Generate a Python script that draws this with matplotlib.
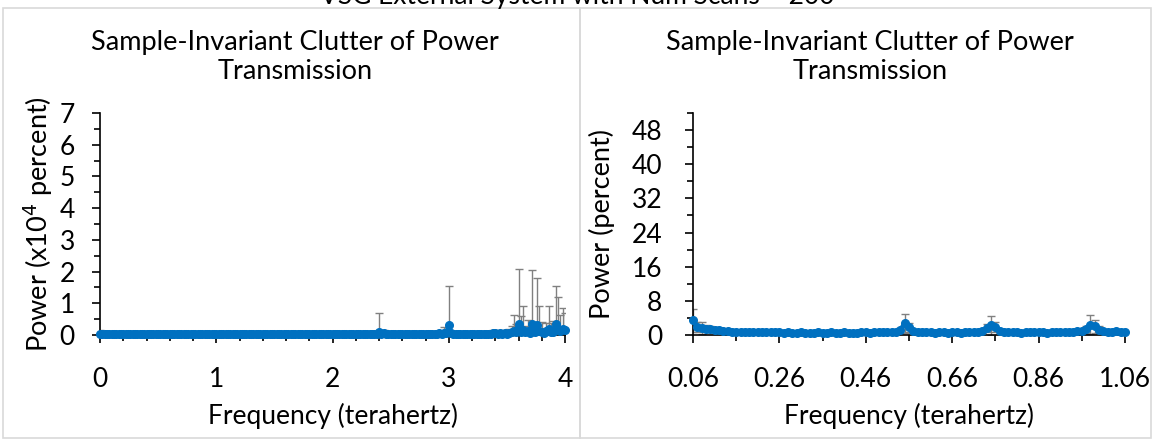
import matplotlib
matplotlib.use("Agg")
import matplotlib.pyplot as plt
import numpy as np
from matplotlib.patches import Rectangle
from matplotlib.ticker import MultipleLocator

plt.rcParams['font.family'] = ['Lato', 'DejaVu Sans']

suptitle = "VSG External System with Num Scans = 200"
panel_title = "Sample-Invariant Clutter of Power\nTransmission"
x_label = "Frequency (terahertz)"

# left panel: 0 - 4 THz, step 0.02, power in x10^4 percent
left_freq = np.round(np.arange(0, 4.0001, 0.02), 2)
left_power = ([0.02] * 110
              + [0.03, 0.02, 0.02, 0.03, 0.02, 0.02, 0.03, 0.02, 0.03, 0.04]
              + [0.08]
              + [0.04, 0.05, 0.03, 0.02, 0.02, 0.03, 0.02, 0.02, 0.03]
              + [0.02, 0.03, 0.02, 0.02, 0.02, 0.03, 0.02, 0.02, 0.04, 0.03,
                 0.02, 0.02, 0.03, 0.03, 0.02, 0.04, 0.05, 0.04, 0.06, 0.05]
              + [0.30]
              + [0.05, 0.04, 0.03, 0.03, 0.02, 0.03, 0.04, 0.03, 0.03, 0.02,
                 0.03, 0.02, 0.03, 0.04, 0.03, 0.02, 0.03, 0.04, 0.05]
              + [0.06, 0.04, 0.05, 0.03, 0.06, 0.04, 0.05, 0.08, 0.12, 0.10]
              + [0.35, 0.10, 0.15, 0.08, 0.12, 0.05, 0.35, 0.10, 0.30, 0.12]
              + [0.10, 0.05, 0.12, 0.20, 0.08, 0.10, 0.35, 0.15, 0.12, 0.20]
              + [0.15])
left_err = ([0.15] + [0.0] * 109
            + [0.03, 0.0, 0.0, 0.05, 0.0, 0.0, 0.03, 0.0, 0.05, 0.06]
            + [0.62]
            + [0.05, 0.10, 0.03, 0.0, 0.0, 0.04, 0.0, 0.0, 0.03]
            + [0.0, 0.03, 0.0, 0.0, 0.0, 0.03, 0.0, 0.0, 0.05, 0.03,
               0.0, 0.0, 0.04, 0.03, 0.0, 0.06, 0.08, 0.05, 0.20, 0.10]
            + [1.23]
            + [0.08, 0.05, 0.03, 0.03, 0.0, 0.03, 0.05, 0.04, 0.03, 0.0,
               0.04, 0.0, 0.03, 0.05, 0.03, 0.0, 0.04, 0.06, 0.10]
            + [0.10, 0.05, 0.08, 0.03, 0.10, 0.05, 0.15, 0.20, 0.50, 0.25]
            + [1.73, 0.50, 0.75, 0.20, 0.35, 0.15, 1.70, 0.30, 1.50, 0.78]
            + [0.30, 0.15, 0.25, 0.70, 0.30, 0.35, 1.20, 1.05, 0.50, 0.65]
            + [0.55])

# right panel: 0.06 - 1.06 THz, step 0.01, power in percent
right_freq = np.round(np.arange(0.06, 1.0601, 0.01), 2)
right_power = [3.4, 1.9, 1.7, 1.5, 1.3, 1.2, 1.1, 1.0, 0.9, 0.8,
               0.8, 0.7, 0.7, 0.7, 0.6, 0.7, 0.6, 0.6, 0.6, 0.6,
               0.6, 0.5, 0.6, 0.5, 0.5, 0.6, 0.5, 0.5, 0.5, 0.6,
               0.5, 0.5, 0.6, 0.5, 0.5, 0.6, 0.5, 0.5, 0.5, 0.6,
               0.6, 0.5, 0.6, 0.6, 0.6, 0.7, 0.7, 0.8, 1.1, 2.7,
               1.8, 1.0, 0.7, 0.6, 0.6, 0.6, 0.5, 0.6, 0.6, 0.5,
               0.6, 0.6, 0.5, 0.6, 0.6, 0.7, 0.8, 1.0, 1.6, 2.3,
               1.8, 1.0, 0.7, 0.6, 0.6, 0.6, 0.5, 0.6, 0.6, 0.6,
               0.6, 0.6, 0.5, 0.6, 0.6, 0.6, 0.7, 0.7, 0.8, 0.9,
               1.0, 1.3, 2.4, 2.0, 1.2, 0.9, 0.8, 0.7, 1.0, 0.8, 0.8]
right_err = [2.7, 1.2, 1.4, 0.9, 0.7, 0.6, 0.5, 0.4, 0.3, 0.3,
             0.2, 0.2, 0.2, 0.2, 0.2, 0.2, 0.2, 0.2, 0.2, 0.2,
             0.2, 0.2, 0.2, 0.2, 0.2, 0.2, 0.2, 0.2, 0.2, 0.2,
             0.2, 0.2, 0.2, 0.2, 0.2, 0.2, 0.2, 0.2, 0.2, 0.2,
             0.2, 0.2, 0.2, 0.2, 0.2, 0.2, 0.3, 0.3, 0.5, 2.2,
             1.0, 0.5, 0.3, 0.2, 0.2, 0.2, 0.2, 0.2, 0.2, 0.2,
             0.2, 0.2, 0.2, 0.2, 0.2, 0.3, 0.3, 0.5, 1.0, 2.2,
             1.2, 0.5, 0.3, 0.2, 0.2, 0.2, 0.2, 0.2, 0.2, 0.2,
             0.2, 0.2, 0.2, 0.2, 0.2, 0.2, 0.3, 0.3, 0.4, 0.5,
             0.5, 0.8, 2.2, 1.6, 0.8, 0.4, 0.3, 0.3, 0.4, 0.3, 0.3]

BLUE = '#0070C0'
W, H = 1154, 441


def px_box(x0, y0, x1, y1):
    # pixel box (top-left origin) -> figure fraction rect
    return [x0 / W, 1 - y1 / H, (x1 - x0) / W, (y1 - y0) / H]


def style_axes(ax, ypad):
    for s in ['top', 'right']:
        ax.spines[s].set_visible(False)
    for s in ['left', 'bottom']:
        ax.spines[s].set_linewidth(1.2)
    ax.tick_params(which='major', direction='out', length=6, width=1.2, labelsize=19)
    ax.tick_params(which='minor', direction='out', length=4, width=1.2)
    ax.tick_params(axis='x', pad=17)
    ax.tick_params(axis='y', pad=ypad)


def draw_panel(ax, freq, power, err):
    ax.errorbar(freq, power, yerr=err, fmt='none', ecolor='#808080',
                elinewidth=1, capsize=3, capthick=1, zorder=2)
    ax.plot(freq, power, color=BLUE, lw=3.5, marker='o', ms=5.5,
            mec=BLUE, mfc=BLUE, zorder=3, clip_on=False)


fig = plt.figure(figsize=(W / 100, H / 100), dpi=100)

# chart borders
fig.patches.append(Rectangle((3 / W, 3 / H), 577 / W, 430 / H, transform=fig.transFigure,
                             fill=False, edgecolor='#d9d9d9', lw=1.2))
fig.patches.append(Rectangle((580 / W, 3 / H), 571 / W, 430 / H, transform=fig.transFigure,
                             fill=False, edgecolor='#d9d9d9', lw=1.2))

fig.text(0.5, 1 - 4 / H, suptitle, ha='center', va='baseline', fontsize=19)

ax1 = fig.add_axes(px_box(100, 113, 565, 335))
draw_panel(ax1, left_freq, left_power, left_err)
ax1.set_xlim(0, 4)
ax1.set_ylim(0, 7)
ax1.xaxis.set_major_locator(MultipleLocator(1))
ax1.xaxis.set_minor_locator(MultipleLocator(0.2))
ax1.yaxis.set_major_locator(MultipleLocator(1))
ax1.yaxis.set_minor_locator(MultipleLocator(0.5))
style_axes(ax1, 12)
ax1.set_xlabel(x_label, fontsize=19, labelpad=8)
ax1.set_ylabel("Power (x10$^4$ percent)", fontsize=19.5, labelpad=3)
fig.text(295 / W, 1 - 57 / H, panel_title, ha='center', va='center',
         fontsize=19.5, linespacing=1.2)

ax2 = fig.add_axes(px_box(693, 113, 1125, 335))
draw_panel(ax2, right_freq, right_power, right_err)
ax2.set_xlim(0.06, 1.06)
ax2.set_ylim(0, 52)
ax2.set_xticks([0.06, 0.26, 0.46, 0.66, 0.86, 1.06])
ax2.set_xticklabels(["0.06", "0.26", "0.46", "0.66", "0.86", "1.06"])
ax2.set_xticks(np.round(np.arange(0.16, 1.0, 0.2), 2), minor=True)
ax2.yaxis.set_major_locator(MultipleLocator(8))
ax2.yaxis.set_minor_locator(MultipleLocator(4))
style_axes(ax2, 16)
ax2.set_xlabel(x_label, fontsize=19, labelpad=8)
ax2.set_ylabel("Power (percent)", fontsize=19.5, labelpad=12)
fig.text(870 / W, 1 - 57 / H, panel_title, ha='center', va='center',
         fontsize=19.5, linespacing=1.2)

fig.savefig("out.png", dpi=100)
